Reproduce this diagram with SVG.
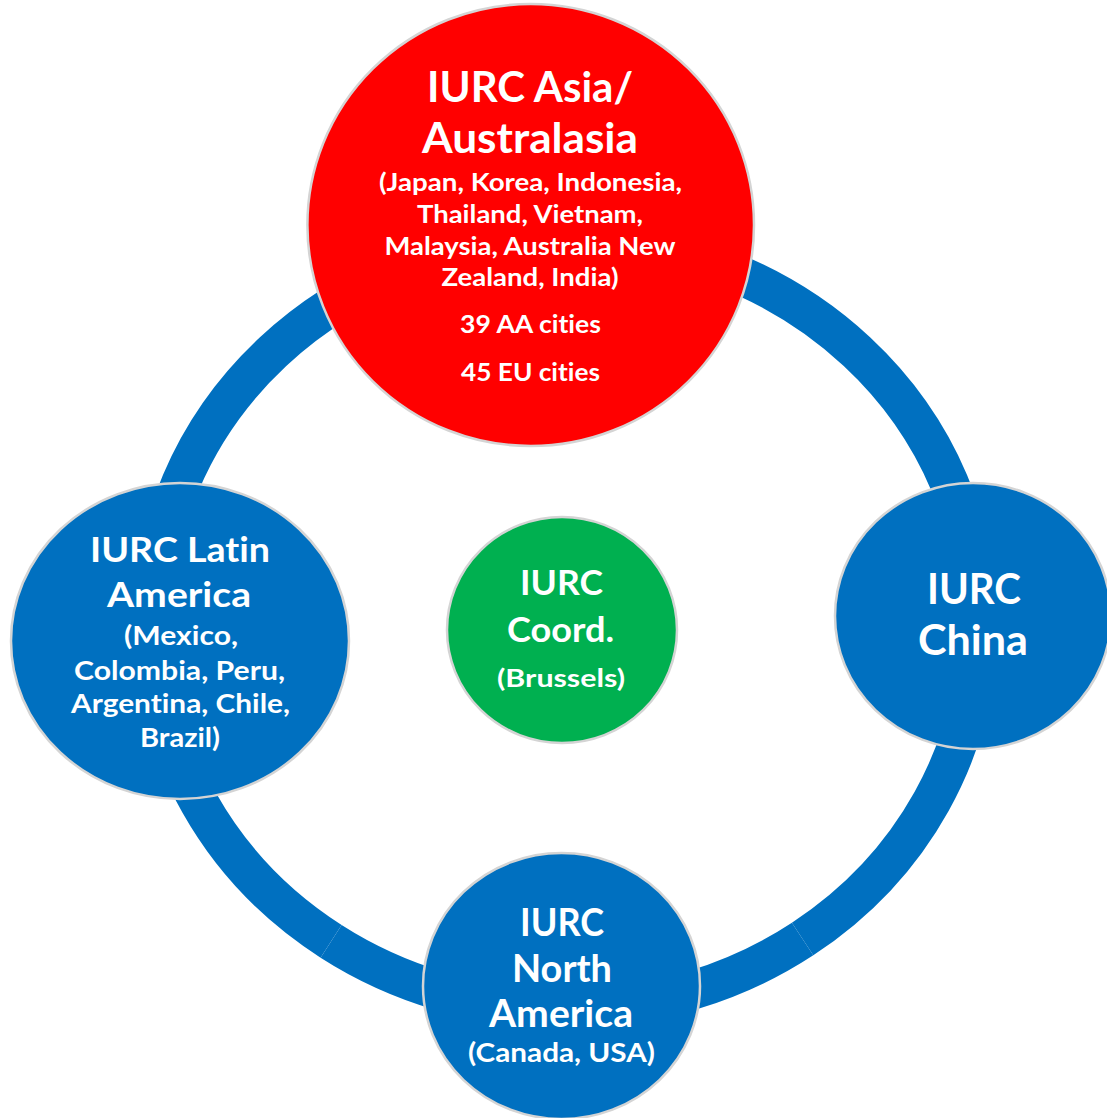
<svg xmlns="http://www.w3.org/2000/svg" width="1107" height="1118" viewBox="0 0 1107 1118">
<style>
  .ring { fill: none; stroke: #0070C0; stroke-width: 39; stroke-linecap: butt; }
  .node { stroke: #d4d4d4; stroke-width: 2.5; }
  .blue { fill: #0070C0; }
  .red { fill: #FF0000; }
  .green { fill: #00B050; }
  text { font-family: Lato, "Open Sans", "Liberation Sans", sans-serif; font-weight: bold; fill: #ffffff; text-anchor: middle; font-variant-ligatures: none; font-feature-settings: "liga" 0, "clig" 0, "dlig" 0; }
  .t42 { font-size: 42px; }
  .t38 { font-size: 38px; }
  .t35 { font-size: 35px; }
  .s26 { font-size: 26px; }
  .s25 { font-size: 25px; }
</style>
<rect width="1107" height="1118" fill="#ffffff"/>
<g id="connectors">
  <path class="ring" d="M 565 239 A 413 385 0 0 1 978 624"/>
  <path class="ring" d="M 978 624 A 413 385 0 0 1 802.6 939"/>
  <path class="ring" d="M 802.6 939 A 413 385 0 0 1 331.1 941.3"/>
  <path class="ring" d="M 331.1 941.3 A 413 385 0 0 1 152 624"/>
  <path class="ring" d="M 152 624 A 413 385 0 0 1 565 239"/>
</g>
<g id="node-asia">
  <ellipse class="node red" cx="530.7" cy="225" rx="223.3" ry="221"/>
  <text class="t42" x="530" y="102" textLength="206" lengthAdjust="spacingAndGlyphs">IURC Asia/</text>
  <text class="t42" x="530" y="153" textLength="216" lengthAdjust="spacingAndGlyphs">Australasia</text>
  <text class="s25" x="530.5" y="191" textLength="303" lengthAdjust="spacingAndGlyphs">(Japan, Korea, Indonesia,</text>
  <text class="s25" x="530" y="223" textLength="226" lengthAdjust="spacingAndGlyphs">Thailand, Vietnam,</text>
  <text class="s25" x="530" y="255" textLength="291" lengthAdjust="spacingAndGlyphs">Malaysia, Australia New</text>
  <text class="s25" x="530" y="286" textLength="177" lengthAdjust="spacingAndGlyphs">Zealand, India)</text>
  <text class="s25" x="530.5" y="333" textLength="141" lengthAdjust="spacingAndGlyphs">39 AA cities</text>
  <text class="s25" x="530.5" y="381" textLength="139" lengthAdjust="spacingAndGlyphs">45 EU cities</text>
</g>
<g id="node-latin-america">
  <ellipse class="node blue" cx="180" cy="641" rx="169" ry="158"/>
  <text class="t35" x="180" y="562" textLength="180" lengthAdjust="spacingAndGlyphs">IURC Latin</text>
  <text class="t35" x="179" y="607" textLength="144" lengthAdjust="spacingAndGlyphs">America</text>
  <text class="s26" x="181" y="645" textLength="114" lengthAdjust="spacingAndGlyphs">(Mexico,</text>
  <text class="s26" x="179.5" y="679.5" textLength="211" lengthAdjust="spacingAndGlyphs">Colombia, Peru,</text>
  <text class="s26" x="180.5" y="713" textLength="219" lengthAdjust="spacingAndGlyphs">Argentina, Chile,</text>
  <text class="s26" x="180" y="747" textLength="80" lengthAdjust="spacingAndGlyphs">Brazil)</text>
</g>
<g id="node-china">
  <ellipse class="node blue" cx="973" cy="616" rx="138" ry="133"/>
  <text class="t42" x="974" y="604" textLength="94" lengthAdjust="spacingAndGlyphs">IURC</text>
  <text class="t42" x="973" y="655" textLength="110" lengthAdjust="spacingAndGlyphs">China</text>
</g>
<g id="node-north-america">
  <ellipse class="node blue" cx="561.5" cy="986" rx="138.5" ry="133"/>
  <text class="t38" x="562" y="936" textLength="84" lengthAdjust="spacingAndGlyphs">IURC</text>
  <text class="t38" x="562" y="981.5" textLength="100" lengthAdjust="spacingAndGlyphs">North</text>
  <text class="t38" x="561" y="1026.5" textLength="144" lengthAdjust="spacingAndGlyphs">America</text>
  <text class="s26" x="561.5" y="1061.5" textLength="187" lengthAdjust="spacingAndGlyphs">(Canada, USA)</text>
</g>
<g id="node-coord">
  <ellipse class="node green" cx="562" cy="630" rx="115" ry="113"/>
  <text class="t35" x="561.5" y="595" textLength="83" lengthAdjust="spacingAndGlyphs">IURC</text>
  <text class="t35" x="560.5" y="641.5" textLength="107" lengthAdjust="spacingAndGlyphs">Coord.</text>
  <text class="s25" x="561" y="687" textLength="128" lengthAdjust="spacingAndGlyphs">(Brussels)</text>
</g>
</svg>
